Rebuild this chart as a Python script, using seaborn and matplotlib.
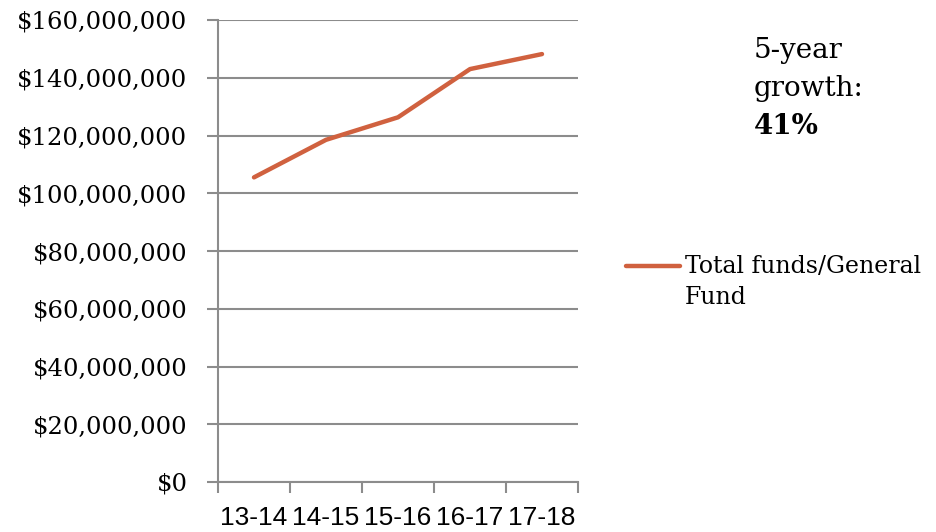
import numpy as np
import pandas as pd
import matplotlib
matplotlib.use("Agg")
import matplotlib.pyplot as plt
import seaborn as sns

years = ["13-14", "14-15", "15-16", "16-17", "17-18"]
funds = [105.5e6, 118.5e6, 126.3e6, 143.0e6, 148.2e6]
series_label = "Total funds/General\nFund"
y_ticks = [0, 20e6, 40e6, 60e6, 80e6, 100e6, 120e6, 140e6, 160e6]

line_color = "#D0613F"
grid_color = "#8C8C8C"

sns.set_style("white")
plt.rcParams["font.family"] = ["DejaVu Serif"]
plt.rcParams["text.color"] = "black"
plt.rcParams["xtick.color"] = "black"
plt.rcParams["ytick.color"] = "black"

df = pd.DataFrame({"year": np.arange(len(years)), "funds": funds})

fig = plt.figure(figsize=(9.37, 5.32), dpi=100)
ax = fig.add_axes([218 / 937, 1 - 482 / 532, 360 / 937, 462 / 532])

sns.lineplot(data=df, x="year", y="funds", ax=ax, color=line_color,
             linewidth=3.2, sort=False, label=series_label,
             solid_capstyle="round")

ax.set_xlim(-0.5, len(years) - 0.5)
ax.set_ylim(0, 160e6)
ax.set_yticks(y_ticks)
ax.set_yticklabels([f"${v:,.0f}" for v in y_ticks], fontsize=17.5)
ax.yaxis.grid(True, color=grid_color, linewidth=1.5)
ax.set_axisbelow(True)

# category boundaries as tick marks, labels centred on categories
ax.set_xticks(np.arange(-0.5, len(years)), labels=[""] * (len(years) + 1))
ax.set_xticks(np.arange(len(years)), labels=years, minor=True)
ax.tick_params(axis="x", which="minor", bottom=True, length=0, pad=17.5,
               labelsize=19, labelcolor="black")
for lab in ax.get_xticklabels(minor=True):
    lab.set_family("Liberation Sans")
ax.tick_params(axis="x", which="major", bottom=True, length=8, width=1.5,
               color=grid_color, direction="out")
ax.tick_params(axis="y", left=True, length=8, width=1.5, color=grid_color,
               direction="out", pad=14, labelcolor="black")

for side in ["top", "right"]:
    ax.spines[side].set_visible(False)
for side in ["left", "bottom"]:
    ax.spines[side].set_color(grid_color)
    ax.spines[side].set_linewidth(1.5)

ax.set_xlabel("")
ax.set_ylabel("")

leg = ax.legend(loc="upper left", bbox_to_anchor=(614 / 937, 1 - 243 / 532),
                bbox_transform=fig.transFigure, frameon=False, fontsize=17,
                handlelength=2.3, handletextpad=0.2, borderpad=0,
                alignment="left")
for t in leg.get_texts():
    t.set_linespacing(1.45)
# lift the legend line so it sits beside the first text line
for h in leg.legend_handles:
    h.set_ydata(np.asarray(h.get_ydata()) + 12)

fig.text(754 / 937, 1 - 37 / 532, "5-year\ngrowth:", fontsize=20,
         va="top", ha="left", linespacing=1.5)
fig.text(754 / 937, 1 - 113 / 532, "41%", fontsize=20, fontweight="bold",
         va="top", ha="left")

fig.savefig("out.png", dpi=100)
